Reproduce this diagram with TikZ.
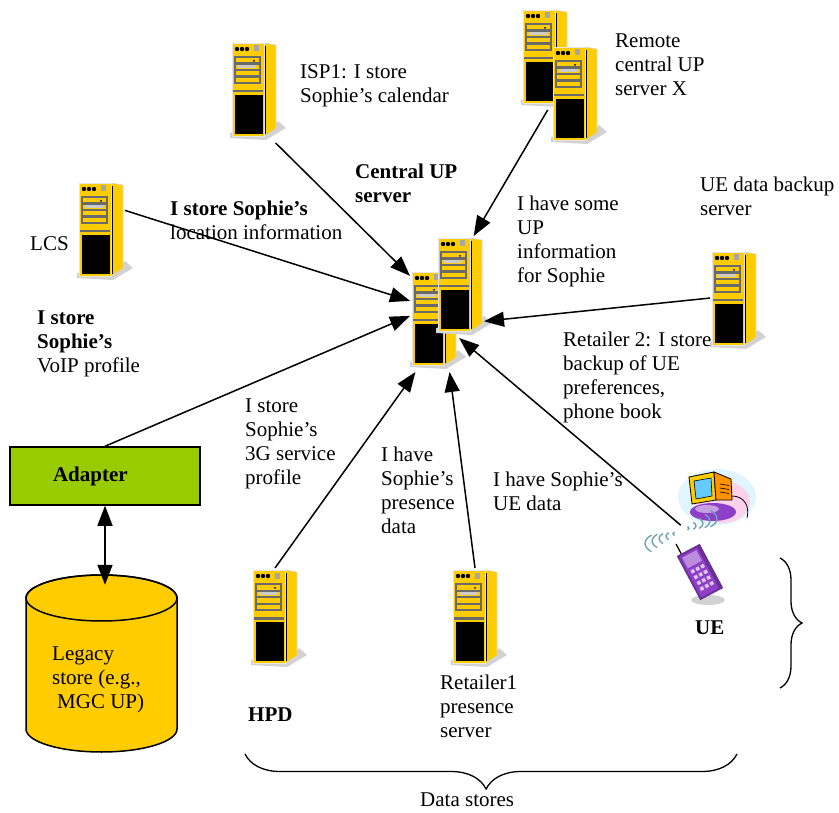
\documentclass[tikz,border=0pt]{standalone}
\usepackage{fontspec}
\setmainfont{Liberation Serif}
\usetikzlibrary{arrows.meta,decorations.pathreplacing}

\definecolor{srvyellow}{HTML}{FFCC00}
\definecolor{adaptgreen}{HTML}{99CC00}
\definecolor{grill}{HTML}{6A6A6A}
\definecolor{pcviolet}{HTML}{8E3FC8}

% tower server clip-art, origin at the top left of the front panel
\tikzset{
  server/.pic={
    % floor shadow
    \fill[gray!35] (-2,90) -- (-2,95) -- (34,97) -- (54,85) -- (46,78) -- (44,80) -- cycle;
    % case: side, then front
    \fill[srvyellow] (32,0) -- (44,2) -- (44,85) -- (32,93) -- cycle;
    \draw[gray!30, line width=0.6pt] (32,0) -- (44,2) -- (44,85);
    \fill[srvyellow, draw=gray!20, line width=0.8pt] (0,0) rectangle (32,93);
    \draw[line width=1.4pt] (33.6,3) -- (33.6,91);
    % lamps and switch
    \foreach \i in {5,10,15}
      \fill (\i,6) circle (2.2pt);
    \fill[gray!70] (22,2.5) rectangle (26.5,8.5);
    % drive bays
    \foreach \j in {13,19.5,26,32.5,39}
      \fill[grill] (2,\j) rectangle (29,\j+2.4);
    \fill[grill] (2,13) rectangle (4.2,41.4);
    \fill[grill] (26.8,13) rectangle (29,41.4);
    \fill[gray!40] (6,22) rectangle (24,24.8);
    \fill (22,17.8) circle (1pt);
    \fill[grill] (1,47) rectangle (31,49.5);
    % door
    \fill (2.5,52) rectangle (30.5,91);
  }
}

\begin{document}
\begin{tikzpicture}[x=1pt, y=-1pt, >={Triangle[length=20pt,width=15pt]},
	conn/.style={line width=1.5pt, ->},
	srv/.style={rectangle, inner sep=0pt, outer sep=0pt, minimum width=48pt, minimum height=102pt},
	lbl/.style={font=\fontsize{21}{24}\selectfont, align=left, anchor=north west, inner sep=0pt, execute at begin node=\strut}]
	
	\useasboundingbox (0,0) rectangle (839,813);
	
	% servers
	\foreach \n/\x/\y in {isp/232/43, rem/523/10, lcs/79/183, cenA/412/272, cenB/438/238,
		ueb/712/252, hpd/253/570, ret/453/570}{
		\pic at (\x,\y) {server};
		\node[srv] (\n) at (\x+22,\y+49) {};
	}
	\pic at (553,47) {server};
	
	% user equipment: PC and handset
	\fill[cyan!12] (717,497) ellipse [x radius=39, y radius=28];
	\fill[magenta!18] (722,502) ellipse [x radius=28, y radius=21];
	\fill[pcviolet] (713,512) ellipse [x radius=23, y radius=9];
	\fill[pcviolet!50] (707,509) ellipse [x radius=12, y radius=4];
	\filldraw[fill=srvyellow, line width=0.8pt] (689,477) -- (714,472) -- (716,500) -- (692,504) -- cycle;
	\filldraw[fill=orange!85!yellow, line width=0.8pt] (714,472) -- (731,479) -- (732,500) -- (716,500) -- cycle;
	\foreach \v in {484,488,492}
		\draw[line width=0.6pt] (720,\v) -- (729,\v+1.5);
	\filldraw[fill=blue!35!cyan!60, line width=0.6pt] (694,481) -- (711,478) -- (712,496) -- (696,499) -- cycle;
	\draw[line width=0.8pt] (732,496) .. controls (744,496) and (750,506) .. (747,518);
	\foreach \r in {8,15,22,29,36}{
		\draw[cyan!40!gray, line width=1.4pt] (681,531) ++(145:\r) arc [start angle=145, end angle=215, x radius=\r, y radius=0.4*\r];
		\draw[cyan!40!gray, line width=1.4pt] (681,531) ++(-35:\r) arc [start angle=-35, end angle=35, x radius=\r, y radius=0.4*\r];
	}
	\fill[gray!35] (708,600) ellipse [x radius=17, y radius=5];
	\begin{scope}[rotate around={28:(700,572)}]
		\fill[pcviolet!75!black] (687,547) rectangle (713,597);
		\fill[pcviolet] (689,549) rectangle (709,595);
		\fill[pcviolet!60] (691,551) rectangle (707,563);
		\foreach \a in {694,699.5,705}
			\foreach \b in {568,574.5,581,587.5}
				\fill[pcviolet!30] (\a-1.8,\b-1.8) rectangle (\a+1.8,\b+1.8);
		\draw[line width=1.2pt] (692,547) -- (692,536);
	\end{scope}
	\node[rectangle, inner sep=0pt, minimum width=75pt, minimum height=55pt] (ue) at (717.5,497.5) {};
	
	% adapter and legacy store
	\node[draw, fill=adaptgreen, line width=1.5pt, minimum height=58pt, text width=104pt, inner xsep=43pt,
		align=left, font=\fontsize{21}{24}\selectfont\bfseries] (adapter) at (105,476) {Adapter};
	\filldraw[fill=srvyellow, line width=1.5pt] (26,598) -- (26,729)
		arc [start angle=180, end angle=0, x radius=75.5, y radius=23] -- (177,598)
		arc [start angle=0, end angle=-180, x radius=75.5, y radius=23] -- cycle;
	\draw[line width=1.5pt] (101.5,598) ellipse [x radius=75.5, y radius=23];
	\node[rectangle, inner sep=0pt, minimum width=151pt, minimum height=167pt] (legacy) at (101.5,668.5) {};
	
	% labels
	\node[lbl] (ispL) at (300,64) {ISP1: I store\\Sophie’s calendar};
	\node[lbl] (remL) at (615,34) {Remote\\central UP\\server X};
	\node[lbl, font=\fontsize{21}{24}\selectfont\bfseries] (cenL) at (355,164) {Central UP\\server};
	\node[lbl] (lcsInfo) at (170,201) {\textbf{I store Sophie’s}\\location information};
	\node[lbl] (lcsL) at (30,234) {LCS};
	\node[lbl] (uebL) at (700,177) {UE data backup\\server};
	\node[lbl] (remInfo) at (517,196) {I have some\\UP\\information\\for Sophie};
	\node[lbl] (voipL) at (37,311) {\textbf{I store}\\\textbf{Sophie’s}\\VoIP profile};
	\node[lbl] (uebInfo) at (563,332) {Retailer 2: I store\\backup of UE\\preferences,\\phone book};
	\node[lbl] (hpdInfo) at (245,399) {I store\\Sophie’s\\3G service\\profile};
	\node[lbl] (retInfo) at (381,447) {I have\\Sophie’s\\presence\\data};
	\node[lbl] (ueInfo) at (493,472) {I have Sophie’s\\UE data};
	\node[lbl, font=\fontsize{21}{24}\selectfont\bfseries] (ueL) at (695,617) {UE};
	\node[lbl, font=\fontsize{21}{24}\selectfont\bfseries] (hpdL) at (248,704) {HPD};
	\node[lbl] (retL) at (440,675) {Retailer1\\presence\\server};
	\node[lbl] (legL) at (52,647) {Legacy\\store (e.g.,\\\hspace*{5pt}MGC UP)};
	\node[lbl] (storesL) at (420,789) {Data stores};
	
	% braces round the data stores
	\draw[decorate, decoration={brace, amplitude=35pt, aspect=0.51}, line width=1.3pt] (737,754) -- (245,754);
	\draw[decorate, decoration={brace, amplitude=22pt}, line width=1.3pt] (780,558) -- (780,688);
	
	% everything reports to the central UP server
	\path[conn]
	(isp.293) edge (cenA.118)
	(lcs.42) edge (cenA.140)
	(adapter.north) edge (cenA.168)
	(hpd.north) edge (cenA.250)
	(ret.north) edge (cenA.287)
	(rem.273) edge (cenB.75)
	(ueb.173) edge (cenB.305)
	(ue.217) edge (cenB.269);
	\draw[line width=1.5pt, <->] (adapter.south) -- (adapter.south |- legacy.north);
\end{tikzpicture}
\end{document}
